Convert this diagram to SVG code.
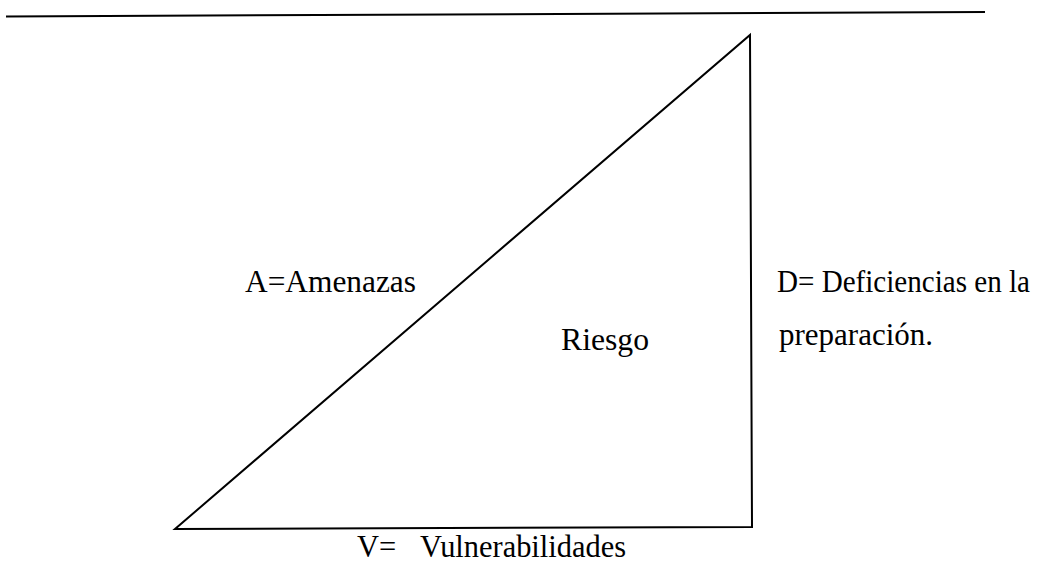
<svg xmlns="http://www.w3.org/2000/svg" width="1042" height="564" viewBox="0 0 1042 564">
<style>
.t{font-family:"Liberation Serif","Times New Roman",serif;font-size:30.5px;fill:#000}
.l{stroke:#000;stroke-width:2;fill:none}
</style>
<rect width="1042" height="564" fill="#fff"/>
<g id="connectors">
<line class="l" x1="6" y1="16.5" x2="985" y2="12"/>
<polygon id="triangle" class="l" points="175,529 750,35 752,527"/>
</g>
<g id="amenazas"><text class="t" x="245" y="292" textLength="171" lengthAdjust="spacingAndGlyphs">A=Amenazas</text></g>
<g id="riesgo"><text class="t" x="561" y="350" textLength="88" lengthAdjust="spacingAndGlyphs">Riesgo</text></g>
<g id="deficiencias"><text class="t" x="777" y="292" textLength="253" lengthAdjust="spacingAndGlyphs">D= Deficiencias en la</text><text class="t" x="779" y="345" textLength="154" lengthAdjust="spacingAndGlyphs">preparación.</text></g>
<g id="vulnerabilidades"><text class="t" x="357" y="557">V=</text><text class="t" x="420" y="557" textLength="206" lengthAdjust="spacingAndGlyphs">Vulnerabilidades</text></g>
</svg>
